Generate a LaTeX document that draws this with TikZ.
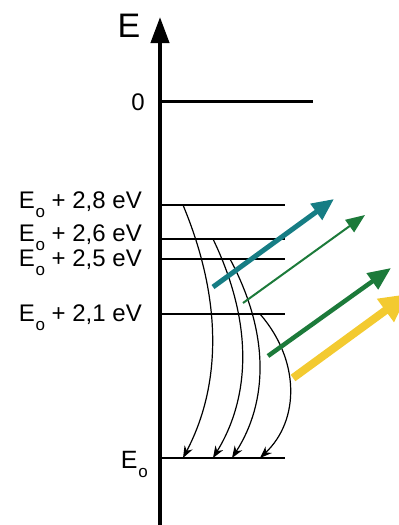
\documentclass[tikz,border=0pt]{standalone}
\usepackage{fontspec}
\setmainfont{Liberation Sans}
\usetikzlibrary{arrows.meta}
\definecolor{tealc}{RGB}{22,125,132}
\definecolor{greenc}{RGB}{28,122,58}
\definecolor{yellowc}{RGB}{243,202,48}
\newcommand{\Eosub}[1]{E\kern0.03em\raisebox{-#1}{\fontsize{17}{17}\selectfont o}}
\begin{document}
\begin{tikzpicture}[x=1pt,y=-1pt,
  levelline/.style={line width=1.3pt},
  decay/.style={line width=1.2pt,-{Stealth[length=12pt,width=9pt]}},
  lbl/.style={font=\fontsize{24}{24}\selectfont, anchor=base east, inner sep=0pt},
  photon/.style={line cap=butt}]
\useasboundingbox (0,0) rectangle (399,525);
% axis
\coordinate (ab) at (160,525);
\coordinate (at) at (160,17);
\draw[line width=4pt,-{Triangle[length=26pt,width=18pt]}] (ab) -- (at);
\node[font=\fontsize{34}{34}\selectfont, inner sep=0pt, anchor=base] (Elab) at (129,37) {E};
% zero level
\coordinate (z0) at (160,101);
\coordinate (z1) at (313,101);
\draw[line width=3pt] (z0) -- (z1);
\node[font=\fontsize{24}{24}\selectfont, inner sep=0pt, anchor=base] (zlab) at (138,110) {0};
% levels
\coordinate (a0) at (160,205); \coordinate (a1) at (285,205);
\coordinate (b0) at (160,239); \coordinate (b1) at (285,239);
\coordinate (c0) at (160,259); \coordinate (c1) at (285,259);
\coordinate (d0) at (160,314); \coordinate (d1) at (285,314);
\coordinate (e0) at (160,458); \coordinate (e1) at (285,458);
\draw[levelline] (a0) -- (a1);
\draw[levelline] (b0) -- (b1);
\draw[levelline] (c0) -- (c1);
\draw[levelline] (d0) -- (d1);
\draw[levelline] (e0) -- (e1);
\node[lbl] (ta) at (142,208) {\Eosub{9pt}\ + 2,8 eV};
\node[lbl] (tb) at (142,241) {\Eosub{9pt}\ + 2,6 eV};
\node[lbl] (tc) at (142,266) {\Eosub{9pt}\ + 2,5 eV};
\node[lbl] (td) at (142,321) {\Eosub{9pt}\ + 2,1 eV};
\node[lbl, font=\fontsize{25}{25}\selectfont] (te) at (148,468) {\Eosub{9.5pt}};
% decay curves
\coordinate (s1) at (183,205); \coordinate (f1) at (183,458);
\coordinate (s2) at (213,239); \coordinate (f2) at (213,458);
\coordinate (s3) at (230,259); \coordinate (f3) at (232,458);
\coordinate (s4) at (260,314); \coordinate (f4) at (260,458);
\draw[decay] (s1) .. controls (223,301) and (221,386) .. (f1);
\draw[decay] (s2) .. controls (253,322) and (251,396) .. (f2);
\draw[decay] (s3) .. controls (270,334) and (268,402) .. (f3);
\draw[decay] (s4) .. controls (300,360) and (300,420) .. (f4);
% photons
\coordinate (p1s) at (213,287); \coordinate (p1e) at (334,199);
\coordinate (p2s) at (243,303); \coordinate (p2e) at (365,215);
\coordinate (p3s) at (268,356); \coordinate (p3e) at (391,268);
\coordinate (p4s) at (293,378); \coordinate (p4e) at (408,294);
\draw[photon, tealc, line width=5pt, -{Triangle[length=22pt,width=19pt]}] (p1s) -- (p1e);
\draw[photon, greenc, line width=2pt, -{Triangle[length=19pt,width=15pt]}] (p2s) -- (p2e);
\draw[photon, greenc, line width=4.5pt, -{Triangle[length=23pt,width=19pt]}] (p3s) -- (p3e);
\draw[photon, yellowc, line width=8pt, -{Triangle[length=28pt,width=27pt]}] (p4s) -- (p4e);
\end{tikzpicture}
\end{document}
